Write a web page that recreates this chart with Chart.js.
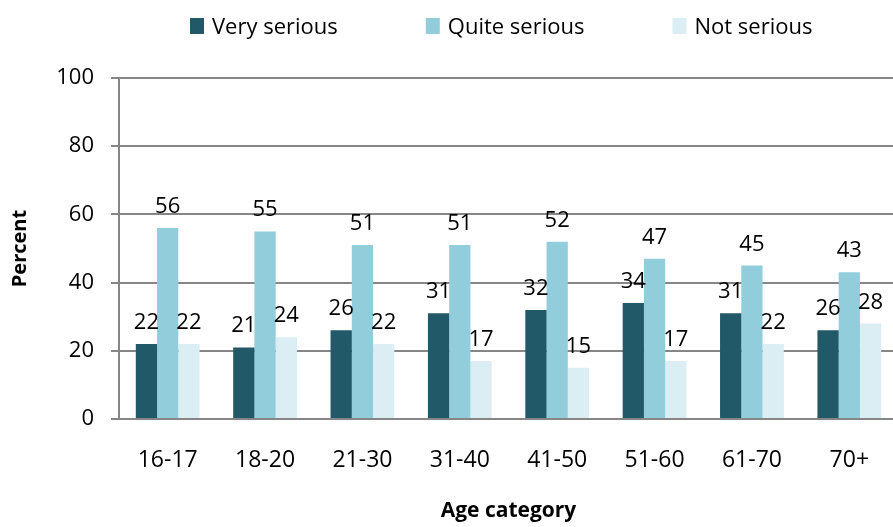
<!DOCTYPE html>
<html>
<head>
<meta charset="utf-8">
<script src="https://cdn.jsdelivr.net/npm/chart.js@4/dist/chart.umd.min.js"></script>
<style>
  html, body { margin: 0; padding: 0; background: #fff; overflow: hidden; }
  #wrap { width: 900px; height: 527px; }
</style>
</head>
<body>
<div id="wrap"><canvas id="c" width="900" height="527"></canvas></div>
<script>
// Age categories along the x axis
const categories = ['16-17', '18-20', '21-30', '31-40', '41-50', '51-60', '61-70', '70+'];

// Percent of respondents per answer
const verySerious  = [22, 21, 26, 31, 32, 34, 31, 26];
const quiteSerious = [56, 55, 51, 51, 52, 47, 45, 43];
const notSerious   = [22, 24, 22, 17, 15, 17, 22, 28];

const seriesNames = ['Very serious', 'Quite serious', 'Not serious'];
const yTicks = [0, 20, 40, 60, 80, 100];

const FONT = '"Open Sans", "DejaVu Sans", sans-serif';
const GRID = '#868686';

// Value labels above each bar
const valueLabels = {
  id: 'valueLabels',
  afterDatasetsDraw(chart) {
    const ctx = chart.ctx;
    ctx.save();
    ctx.font = '22px ' + FONT;
    ctx.fillStyle = '#000';
    ctx.textAlign = 'center';
    ctx.textBaseline = 'alphabetic';
    chart.data.datasets.forEach((ds, i) => {
      chart.getDatasetMeta(i).data.forEach((bar, j) => {
        ctx.fillText(String(ds.data[j]), bar.x, bar.y - 15);
      });
    });
    ctx.restore();
  }
};

// Single-row legend across the top
const topLegend = {
  id: 'topLegend',
  afterDraw(chart) {
    const ctx = chart.ctx;
    ctx.save();
    ctx.font = '22px ' + FONT;
    ctx.textBaseline = 'alphabetic';
    let x = 190;
    chart.data.datasets.forEach(ds => {
      ctx.fillStyle = ds.backgroundColor;
      ctx.fillRect(x, 18, 14, 16);
      ctx.fillStyle = '#000';
      ctx.fillText(ds.label, x + 22, 34);
      x += 22 + ctx.measureText(ds.label).width + 88;
    });
    ctx.restore();
  }
};

new Chart(document.getElementById('c'), {
  type: 'bar',
  data: {
    labels: categories,
    datasets: [
      { label: seriesNames[0], data: verySerious,  backgroundColor: '#215968' },
      { label: seriesNames[1], data: quiteSerious, backgroundColor: '#92CDDC' },
      { label: seriesNames[2], data: notSerious,   backgroundColor: '#DAEEF3' }
    ]
  },
  options: {
    responsive: false,
    animation: false,
    devicePixelRatio: 1,
    layout: { padding: { top: 78, left: 0, right: 2, bottom: 0 } },
    datasets: { bar: { categoryPercentage: 0.655, barPercentage: 1.0 } },
    plugins: { legend: { display: false }, tooltip: { enabled: false } },
    scales: {
      x: {
        grid: { display: false, drawTicks: false },
        border: { display: true, color: GRID, width: 2 },
        ticks: { color: '#000', font: { family: FONT, size: 23 }, padding: 28 },
        title: { display: true, text: 'Age category', color: '#000',
                 font: { family: FONT, size: 21, weight: 'bold' }, padding: { top: 0, bottom: 3 } },
        afterFit(s) { s.height = 108; }
      },
      y: {
        min: 0, max: 100,
        afterBuildTicks(s) { s.ticks = yTicks.map(v => ({ value: v })); },
        grid: { color: GRID, lineWidth: 2, tickLength: 8, drawTicks: true },
        border: { display: true, color: GRID, width: 2 },
        ticks: { color: '#000', font: { family: FONT, size: 22 }, padding: 17 },
        title: { display: true, text: 'Percent', color: '#000',
                 font: { family: FONT, size: 20, weight: 'bold' }, padding: { top: 8, bottom: 0 } },
        afterFit(s) { s.width = 119; }
      }
    }
  },
  plugins: [valueLabels, topLegend]
});
</script>
</body>
</html>
